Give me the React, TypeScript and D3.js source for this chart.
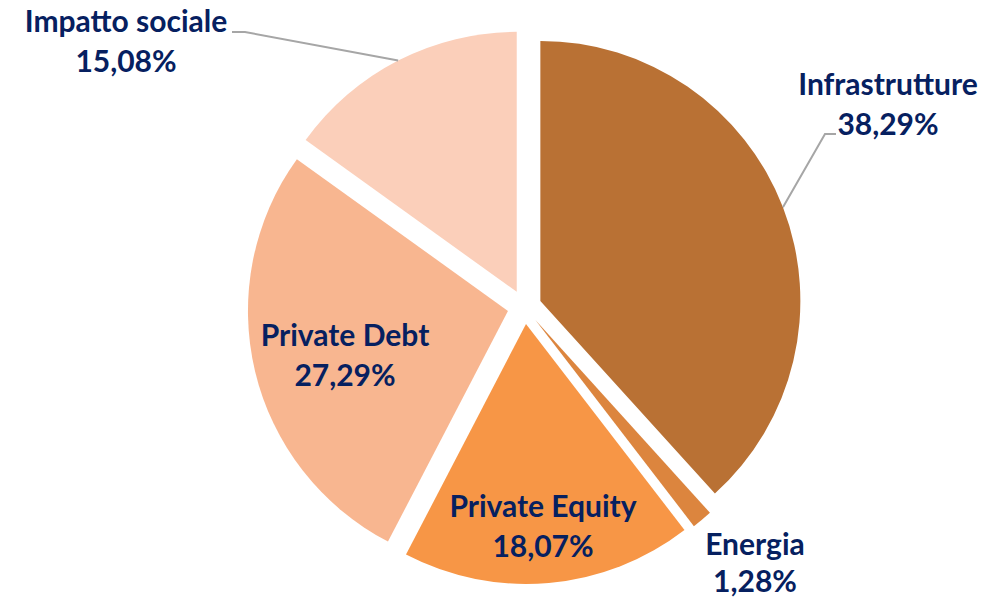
import React from "react";
import * as d3 from "d3";

const categories = ["Infrastrutture", "Energia", "Private Equity", "Private Debt", "Impatto sociale"];
const values = [38.29, 1.28, 18.07, 27.29, 15.08];
const valueLabels = ["38,29%", "1,28%", "18,07%", "27,29%", "15,08%"];
const colors = ["#B97134", "#DC853E", "#F79646", "#F8B690", "#FBCFBA"];

const W = 1005;
const H = 598;
const CX = 524.5;
const CY = 307;
const R = 260;
const EXPLODE = 17;
const FONT = "Lato, 'Open Sans', sans-serif";
const FS = 30;
const TEXT_COLOR = "#062060";

// label anchor (center x, first baseline y) and whether it has a leader
const labelPos: { x: number; y: number; leader: boolean; side?: "left" | "right" }[] = [
  { x: 888, y: 95, leader: true, side: "right" },
  { x: 755, y: 555, leader: false },
  { x: 543, y: 517, leader: false },
  { x: 345, y: 346, leader: false },
  { x: 126, y: 32, leader: true, side: "left" },
];

export default function App() {
  const pie = d3.pie<number>().sort(null).value((d) => d)(values);
  const arc = d3.arc<d3.PieArcDatum<number>>().innerRadius(0).outerRadius(R);

  return (
    <svg
      width={W}
      height={H}
      style={{ position: "absolute", left: 0, top: 0, background: "#fff" }}
      fontFamily={FONT}
    >
      {pie.map((p, i) => {
        const mid = (p.startAngle + p.endAngle) / 2;
        const ox = CX + EXPLODE * Math.sin(mid);
        const oy = CY - EXPLODE * Math.cos(mid);
        return (
          <path key={i} d={arc(p) || ""} fill={colors[i]} transform={`translate(${ox},${oy})`} />
        );
      })}
      {pie.map((p, i) => {
        const lp = labelPos[i];
        if (!lp.leader) return null;
        const mid = (p.startAngle + p.endAngle) / 2;
        const ox = CX + EXPLODE * Math.sin(mid);
        const oy = CY - EXPLODE * Math.cos(mid);
        const ex = ox + R * Math.sin(mid);
        const ey = oy - R * Math.cos(mid);
        let pts: [number, number][];
        if (lp.side === "left") {
          pts = [
            [232, 32],
            [245, 32],
            [ex, ey],
          ];
        } else {
          pts = [
            [836, 134],
            [825, 134],
            [ex, ey],
          ];
        }
        return (
          <path
            key={"l" + i}
            d={d3.line()(pts) || ""}
            fill="none"
            stroke="#A6A6A6"
            strokeWidth={2}
          />
        );
      })}
      {categories.map((c, i) => {
        const lp = labelPos[i];
        const lineGap = i === 1 ? 37 : 40;
        return (
          <g key={"t" + i} fill={TEXT_COLOR} fontWeight={700} fontSize={FS} textAnchor="middle">
            <text x={lp.x} y={lp.y}>{c}</text>
            <text x={lp.x} y={lp.y + lineGap}>{valueLabels[i]}</text>
          </g>
        );
      })}
    </svg>
  );
}
